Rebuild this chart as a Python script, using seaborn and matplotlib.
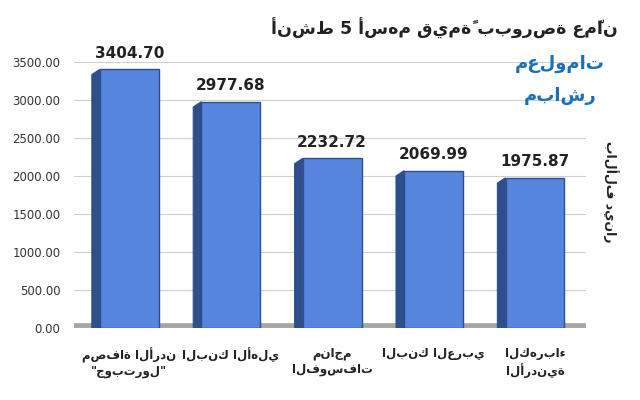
import matplotlib
matplotlib.use("Agg")
import matplotlib.pyplot as plt
import seaborn as sns
import pandas as pd
from matplotlib.patches import Polygon

categories = ["مصفاة الأردن\n\"جوبترول\"", "البنك الأهلي", "مناجم\nالفوسفات", "البنك العربي", "الكهرباء\nالأردنية"]
values = [3404.70, 2977.68, 2232.72, 2069.99, 1975.87]
yticks = [0, 500, 1000, 1500, 2000, 2500, 3000, 3500]

sns.set_theme(style="white")
plt.rcParams['font.family'] = ['DejaVu Sans']

fig = plt.figure(figsize=(6.4, 4.0), dpi=100)
ax = fig.add_axes([0.115, 0.18, 0.80, 0.665])
df = pd.DataFrame({"cat": categories, "val": values})
sns.barplot(data=df, x="cat", y="val", color="#5585DC", edgecolor="#2D4F8E", linewidth=1.0, width=0.58, ax=ax, saturation=1)
dx, dy = 0.08, 70
for p in list(ax.patches):
    x0, w, h = p.get_x(), p.get_width(), p.get_height()
    ax.add_patch(Polygon([(x0 - dx, -dy/2), (x0, 0), (x0, h), (x0 - dx, h - dy)], closed=True,
                         facecolor="#2E4E8C", edgecolor="#2D4F8E", linewidth=0.8, zorder=p.get_zorder()))
for i, v in enumerate(values):
    ax.text(i, v + 110, f"{v:.2f}", ha="center", va="bottom", fontsize=11, fontweight="bold", color="#222222")
ax.set_xlim(-0.55, 4.5)
ax.set_ylim(0, 3500)
ax.set_yticks(yticks)
ax.set_yticklabels([f"{t:.2f}" for t in yticks], fontsize=8.5, color="#333333")
ax.yaxis.grid(True, color="#D0D0D0", linewidth=0.8)
ax.set_axisbelow(True)
ax.set_xlabel("")
ax.set_ylabel("")
ax.tick_params(axis="x", labelsize=8.5, colors="#222222", pad=8)
for lbl in ax.get_xticklabels():
    lbl.set_fontweight("bold")
for s in ax.spines.values():
    s.set_visible(False)
ax.axhline(0, color="#A6A6A6", linewidth=7, zorder=0)

fig.text(0.965, 0.93, "أنشط 5 أسهم قيمةً ببورصة عمّان", ha="right", va="center", fontsize=12.5, fontweight="bold", color="#222222")
fig.text(0.955, 0.52, "بالألف دينار", rotation=270, ha="center", va="center", fontsize=9, fontweight="bold", color="#222222")
fig.text(0.875, 0.84, "معلومات", ha="center", va="center", fontsize=13, fontweight="bold", color="#1B6FB5")
fig.text(0.875, 0.76, "مباشر", ha="center", va="center", fontsize=13, fontweight="bold", color="#1B6FB5")
fig.savefig("out.png", dpi=100, facecolor="white")
